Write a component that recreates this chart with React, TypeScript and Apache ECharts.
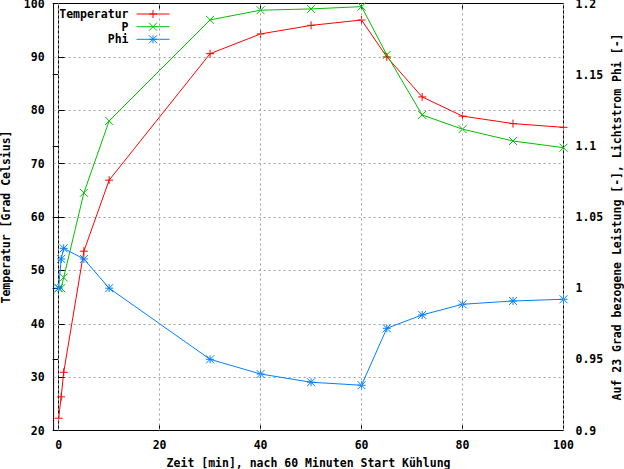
import React, { useEffect, useRef } from "react";
import * as echarts from "echarts";

const xValues = [0, 0.5, 1, 5, 10, 30, 40, 50, 60, 65, 72, 80, 90, 100];
const temperatur = [22.3, 26.3, 30.9, 53.6, 66.9, 90.6, 94.3, 95.9, 96.9, 90.0, 82.5, 78.9, 77.5, 76.8];
const pValues = [1.0, 1.0, 1.0075, 1.067, 1.1175, 1.1885, 1.1953, 1.1962, 1.1978, 1.1639, 1.1217, 1.1117, 1.1034, 1.0987];
const phiValues = [1.0, 1.0205, 1.028, 1.0205, 1.0, 0.95, 0.9397, 0.9339, 0.9318, 0.9718, 0.9812, 0.9887, 0.991, 0.9922];
const xTicks = [0, 20, 40, 60, 80, 100];
const seriesNames = ["Temperatur", "P", "Phi"];

const FONT = "DejaVu Sans Mono";
const RED = "#ff0000";
const GREEN = "#00c000";
const BLUE = "#0080ff";
const GRIDC = "#a0a0a0";

const PLUS = "path://M4,0L4,8M0,4L8,4";
const CROSS = "path://M0,0L8,8M8,0L0,8";
const STAR = "path://M4,0L4,8M0,4L8,4M0,0L8,8M8,0L0,8";

export default function App() {
  const ref = useRef<HTMLDivElement>(null);
  useEffect(() => {
    if (!ref.current) return;
    const chart = echarts.init(ref.current, null, { renderer: "svg" });
    const txt = { fontFamily: FONT, fontWeight: "bold" as const, fontSize: 11.5, color: "#000" };
    const mk = (name: string, color: string, sym: string, yIdx: number, vals: number[]) => ({
      name,
      type: "line",
      yAxisIndex: yIdx,
      data: xValues.map((x, i) => [x, vals[i]]),
      symbol: sym,
      symbolSize: 8,
      showAllSymbol: true,
      lineStyle: { color, width: 1 },
      itemStyle: { color, borderColor: color, borderWidth: 1 },
      z: 3,
    });
    const legendTops = [7.5, 20.2, 32.8];
    chart.setOption({
      animation: false,
      backgroundColor: "#fff",
      textStyle: txt,
      grid: {
        left: 53.6,
        right: 60.5,
        top: 3.5,
        bottom: 38.5,
        containLabel: false,
        outerBoundsMode: "none",
        show: true,
        borderColor: "#000",
        borderWidth: 1,
        backgroundColor: "transparent",
      },
      legend: seriesNames.map((n, i) => ({
        data: [n],
        right: 454,
        top: legendTops[i],
        padding: 0,
        align: "right",
        itemWidth: 33,
        itemHeight: 10,
        selectedMode: false,
        lineStyle: { width: 1 },
        itemStyle: { borderWidth: 1 },
        textStyle: { ...txt, lineHeight: 13, padding: [0, 3, 0, 0] },
      })),
      xAxis: [
        {
          type: "value",
          min: -1,
          max: 100,
          name: "Zeit [min], nach 60 Minuten Start Kühlung",
          nameLocation: "middle",
          nameGap: 26,
          nameMoveOverlap: false,
          nameTextStyle: txt,
          axisLine: { lineStyle: { color: "#000" } },
          axisTick: { inside: true, length: 6, customValues: xTicks, lineStyle: { color: "#000" } },
          axisLabel: { ...txt, margin: 8, customValues: xTicks },
          splitLine: { show: false },
        },
        {
          type: "value",
          position: "top",
          min: -1,
          max: 100,
          axisLine: { lineStyle: { color: "#000" } },
          axisTick: { inside: true, length: 6, customValues: xTicks, lineStyle: { color: "#000" } },
          axisLabel: { show: false },
          splitLine: { show: false },
        },
      ],
      yAxis: [
        {
          type: "value",
          min: 20,
          max: 100,
          interval: 10,
          name: "Temperatur [Grad Celsius]",
          nameLocation: "middle",
          nameRotate: 90,
          nameGap: 42,
          nameMoveOverlap: false,
          nameTextStyle: { ...txt, lineHeight: 11 },
          axisLine: { show: true, lineStyle: { color: "#000" } },
          axisTick: { show: true, inside: true, length: 6, lineStyle: { color: "#000" } },
          axisLabel: { ...txt, margin: 9, lineHeight: 7, padding: [2, 0, 0, 0] },
          splitLine: { show: true, lineStyle: { color: GRIDC, type: [2, 3], width: 1 } },
        },
        {
          type: "value",
          position: "right",
          min: 0.9,
          max: 1.2,
          interval: 0.05,
          name: "Auf 23 Grad bezogene Leistung [-], Lichtstrom Phi [-]",
          nameLocation: "middle",
          nameRotate: 90,
          nameGap: 48,
          nameMoveOverlap: false,
          nameTextStyle: { ...txt, lineHeight: 11 },
          axisLine: { show: true, lineStyle: { color: "#000" } },
          axisTick: { show: true, inside: true, length: 6, lineStyle: { color: "#000" } },
          axisLabel: {
            ...txt,
            margin: 12,
            lineHeight: 7,
            padding: [2, 0, 0, 0],
            formatter: (v: number) => String(+v.toFixed(2)),
          },
          splitLine: { show: false },
        },
      ],
      series: [
        {
          name: "grid-x",
          type: "line",
          data: [],
          silent: true,
          z: 1,
          markLine: {
            silent: true,
            symbol: "none",
            label: { show: false },
            lineStyle: { color: GRIDC, type: [2, 3], width: 1 },
            data: xTicks.map((v) => ({ xAxis: v })),
          },
        },
        mk("Temperatur", RED, PLUS, 0, temperatur),
        mk("P", GREEN, CROSS, 1, pValues),
        mk("Phi", BLUE, STAR, 1, phiValues),
      ],
    });
    return () => chart.dispose();
  }, []);
  return <div ref={ref} style={{ width: 624, height: 469, position: "absolute", left: 0, top: 0 }} />;
}
